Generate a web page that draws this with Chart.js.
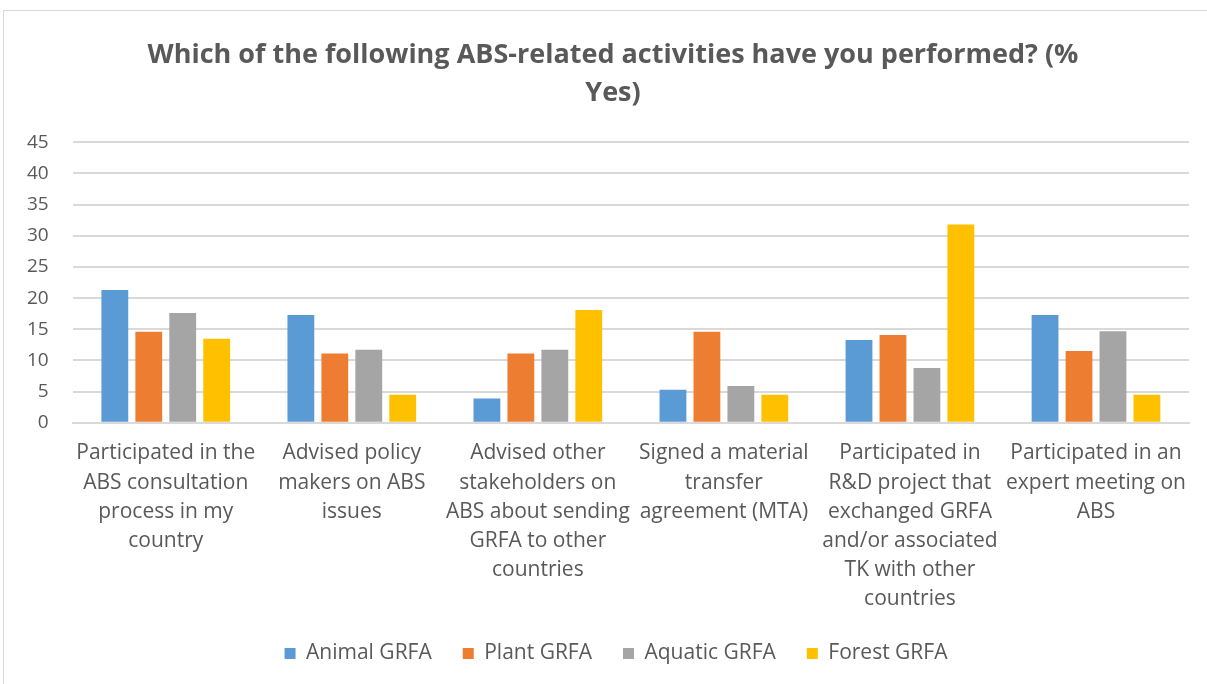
<!DOCTYPE html>
<html>
<head>
<meta charset="utf-8">
<script src="https://cdn.jsdelivr.net/npm/chart.js@4.4.0/dist/chart.umd.min.js"></script>
<style>
  html, body { margin: 0; padding: 0; background: #fff; overflow: hidden; }
  #wrap {
    position: absolute; left: 3px; top: 10px;
    width: 1210px; height: 680px;
    border: 1px solid #d9d9d9; box-sizing: border-box;
  }
  #abs { position: absolute; left: 0; top: 0; }
</style>
</head>
<body>
<div id="wrap"></div>
<canvas id="abs" width="1207" height="684"></canvas>
<script>
const activities = [
  ["Participated in the", "ABS consultation", "process in my", "country"],
  ["Advised policy", "makers on ABS", "issues"],
  ["Advised other", "stakeholders on", "ABS about sending", "GRFA to other", "countries"],
  ["Signed a material", "transfer", "agreement (MTA)"],
  ["Participated in", "R&D project that", "exchanged GRFA", "and/or associated", "TK with other", "countries"],
  ["Participated in an", "expert meeting on", "ABS"],
];

const animalGRFA = [21.3, 17.3, 3.9, 5.3, 13.3, 17.3];
const plantGRFA = [14.6, 11.1, 11.1, 14.6, 14.1, 11.5];
const aquaticGRFA = [17.6, 11.7, 11.7, 5.9, 8.8, 14.7];
const forestGRFA = [13.5, 4.5, 18.1, 4.5, 31.8, 4.5];

const titleLines = ["Which of the following ABS-related activities have you performed? (%", "Yes)"];

const textGrey = "#595959";
const fontFamily = "'Open Sans', sans-serif";

// Excel centres title and legend on the whole frame, and keeps the legend
// closer to the labels - move the boxes after layout
const boxNudge = {
  id: "boxNudge",
  afterLayout(chart) {
    const lg = chart.legend;
    if (lg) {
      lg.top -= 18;
      lg.bottom -= 18;
      lg.left += 20;
      lg.right += 20;
    }
    const tb = chart.titleBlock;
    if (tb) {
      tb.left += 17;
      tb.right += 17;
    }
  },
};

const ctx = document.getElementById("abs").getContext("2d");
new Chart(ctx, {
  type: "bar",
  data: {
    labels: activities,
    datasets: [
      { label: "Animal GRFA", data: animalGRFA, backgroundColor: "#5B9BD5" },
      { label: "Plant GRFA", data: plantGRFA, backgroundColor: "#ED7D31" },
      { label: "Aquatic GRFA", data: aquaticGRFA, backgroundColor: "#A5A5A5" },
      { label: "Forest GRFA", data: forestGRFA, backgroundColor: "#FFC000" },
    ],
  },
  options: {
    responsive: false,
    animation: false,
    devicePixelRatio: 1,
    categoryPercentage: 0.73,
    barPercentage: 0.79,
    layout: { padding: { left: 3, right: 18, top: 0, bottom: -8 } },
    plugins: {
      title: {
        display: true,
        text: titleLines,
        color: textGrey,
        font: { family: fontFamily, size: 27, weight: "bold", lineHeight: 1.41 },
        padding: { top: 36, bottom: 30 },
      },
      legend: {
        position: "bottom",
        labels: {
          color: textGrey,
          font: { family: fontFamily, size: 21 },
          boxWidth: 11,
          boxHeight: 11,
          padding: 31,
        },
      },
      tooltip: { enabled: false },
    },
    scales: {
      x: {
        grid: { display: false, drawTicks: false },
        border: { color: "#d9d9d9", width: 2 },
        ticks: {
          color: textGrey,
          font: { family: fontFamily, size: 21, lineHeight: 1.39 },
          padding: 16,
          maxRotation: 0,
          autoSkip: false,
        },
      },
      y: {
        min: 0,
        max: 45,
        ticks: {
          stepSize: 5,
          color: textGrey,
          font: { family: fontFamily, size: 19 },
          padding: 24,
        },
        grid: { color: "#d9d9d9", lineWidth: 2, drawTicks: false },
        border: { display: false },
      },
    },
  },
  plugins: [boxNudge],
});
</script>
</body>
</html>
